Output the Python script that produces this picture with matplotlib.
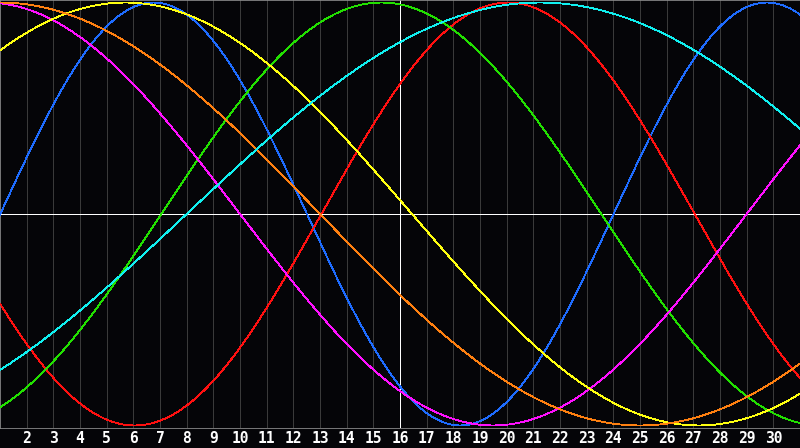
import numpy as np
import matplotlib
matplotlib.use("Agg")
import matplotlib.pyplot as plt

# --- Data ---
# Biorhythm cycles: length in days and the day of the month on which each one peaks
cycle_names = ["physical", "emotional", "intellectual", "intuitive",
               "aesthetic", "awareness", "spiritual"]
cycle_length = [23, 28, 33, 38, 43, 48, 53]
peak_day = [6.76, 20.05, 15.3, 0.5, 5.7, 1.0, 21.25]
line_colors = ["#1e6cff", "#ff1010", "#22e000", "#ff10ff",
               "#ffff10", "#ff8010", "#10f0f0"]

first_day, last_day = 1, 31
tick_days = list(range(2, 31))
tick_labels = [str(d) for d in tick_days]
mid_day = 16

# --- Figure setup ---
fig = plt.figure(figsize=(8, 4.48), dpi=100, facecolor="#050508")
ax = fig.add_axes([0, 20 / 448, 1, 428 / 448])
ax.set_facecolor("#050508")

days = np.linspace(first_day, last_day, 901)
for length, peak, color in zip(cycle_length, peak_day, line_colors):
    values = np.cos(2 * np.pi * (days - peak) / length)
    ax.plot(days, values, color=color, lw=0.6, antialiased=False, zorder=3)

# day grid, midline and today marker
for d in tick_days:
    ax.axvline(d, color="#3a3a3a", lw=0.6, antialiased=False, zorder=1)
ax.axvline(mid_day, color="white", lw=0.6, antialiased=False, zorder=2)
ax.axhline(0, color="white", lw=0.6, antialiased=False, zorder=2)

ax.set_xlim(first_day, last_day)
ax.set_ylim(-1.012, 1.012)
ax.set_yticks([])
ax.set_xticks(tick_days)
ax.set_xticklabels(tick_labels, color="white", fontsize=10.5, fontweight="bold",
                   family="DejaVu Sans Mono")
ax.tick_params(axis="x", length=0, pad=2.5)
for s in ax.spines.values():
    s.set_color("#8c8c8c")
    s.set_linewidth(0.6)

fig.savefig("out.png", dpi=100, facecolor=fig.get_facecolor())
